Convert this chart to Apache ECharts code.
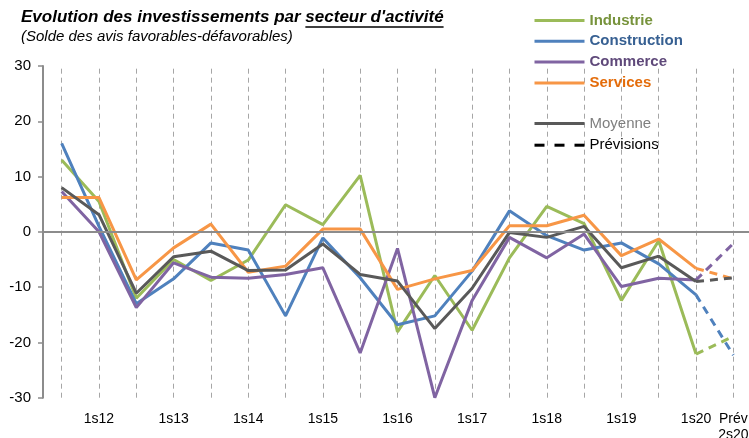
<!DOCTYPE html>
<html>
<head>
<meta charset="utf-8">
<script src="https://cdn.jsdelivr.net/npm/echarts@6/dist/echarts.min.js"></script>
<style>
html,body{margin:0;padding:0;background:#fff;}
#chart{width:749px;height:438px;}
</style>
</head>
<body>
<div id="chart"></div>
<script>
// ---- data ----
var categories = ['2s11','1s12','2s12','1s13','2s13','1s14','2s14','1s15','2s15','1s16','2s16','1s17','2s17','1s18','2s18','1s19','2s19','1s20','Prév 2s20'];
var tickLabels = ['', '1s12', '', '1s13', '', '1s14', '', '1s15', '', '1s16', '', '1s17', '', '1s18', '', '1s19', '', '1s20', 'Prév\n2s20'];
var industrie    = [13.0, 5.5, -12.0, -5.0, -8.8, -5.1, 4.9, 1.3, 10.2, -18.1, -7.9, -17.8, -4.7, 4.6, 1.5, -12.4, -1.6, -22.1, -18.9];
var construction = [16.0, 1.0, -13.0, -8.5, -2.0, -3.3, -15.2, -1.1, -8.3, -16.8, -15.2, -7.1, 3.8, -0.7, -3.3, -2.0, -5.8, -11.4, -22.3];
var commerce     = [7.3, 0.0, -13.7, -5.6, -8.2, -8.4, -7.7, -6.5, -21.9, -3.0, -30.0, -12.4, -1.0, -4.7, -0.4, -9.9, -8.4, -8.7, -2.1];
var services     = [6.2, 6.2, -8.7, -2.9, 1.4, -7.3, -6.2, 0.5, 0.5, -10.4, -8.5, -7.0, 1.1, 1.1, 3.0, -4.3, -1.3, -6.6, -8.5];
var moyenne      = [8.0, 3.1, -11.1, -4.5, -3.5, -7.0, -6.9, -2.2, -7.7, -8.9, -17.5, -10.2, -0.1, -1.0, 1.0, -6.5, -4.4, -9.0, -8.3];
var yTicks = {min: -30, max: 30, interval: 10};

var seriesDefs = [
  {name: 'Industrie',    data: industrie,    color: '#9BBB59', text: '#77933C', bold: true},
  {name: 'Construction', data: construction, color: '#4F81BD', text: '#376092', bold: true},
  {name: 'Commerce',     data: commerce,     color: '#8064A2', text: '#5F497A', bold: true},
  {name: 'Services',     data: services,     color: '#F79646', text: '#E46C0A', bold: true},
  {name: 'Moyenne',      data: moyenne,      color: '#595959', text: '#7F7F7F', bold: false}
];

var FONT = '"Liberation Sans", Arial, sans-serif';
var n = categories.length;
var series = [];
seriesDefs.forEach(function (d, k) {
  var solid = d.data.map(function (v, i) { return i < n - 1 ? v : null; });
  var dashed = d.data.map(function (v, i) { return i >= n - 2 ? v : null; });
  var s = {
    name: d.name, type: 'line', data: solid, symbol: 'none', connectNulls: false,
    lineStyle: {color: d.color, width: 3}, itemStyle: {color: d.color},
    z: 3, animation: false
  };
  if (k === 0) {
    s.markLine = {
      silent: true, symbol: 'none', label: {show: false}, animation: false,
      lineStyle: {color: '#8c8c8c', width: 2, type: 'solid'},
      data: [{yAxis: 0}]
    };
  }
  series.push(s);
  series.push({
    name: d.name + ' (prév.)', type: 'line', data: dashed, symbol: 'none',
    lineStyle: {color: d.color, width: 3, type: [8, 6]}, itemStyle: {color: d.color},
    z: 3, animation: false
  });
});
series.push({
  name: 'Prévisions', type: 'line', data: [], symbol: 'none',
  lineStyle: {color: '#000', width: 3, type: [10, 10]}, itemStyle: {color: '#000'}, animation: false
});

var legendItems = function (names) {
  return names.map(function (nm) {
    var d = seriesDefs.filter(function (x) { return x.name === nm; })[0];
    return {name: nm, textStyle: {color: d.text, fontWeight: d.bold ? 'bold' : 'normal'}};
  });
};

// title widths for underline
var titleFont = 'italic bold 17px ' + FONT;
var cv = document.createElement('canvas').getContext('2d');
cv.font = titleFont;
var t1 = 'Evolution des investissements par ';
var t2 = "secteur d'activité";
var w1 = cv.measureText(t1).width, w2 = cv.measureText(t2).width;
var tx = 21;

var legendCommon = {
  orient: 'vertical', left: 533, itemWidth: 50, itemHeight: 20, padding: 0,
  selectedMode: false, itemStyle: {opacity: 0}, lineStyle: {width: 3},
  textStyle: {fontSize: 15, fontFamily: FONT, lineHeight: 20}
};

var chart = echarts.init(document.getElementById('chart'), null, {renderer: 'canvas'});
chart.setOption({
  animation: false,
  backgroundColor: '#fff',
  textStyle: {fontFamily: FONT},
  grid: {left: 43, top: 66, width: 709, height: 331.7, containLabel: false, outerBoundsMode: 'none'},
  graphic: [
    {type: 'text', left: tx, top: 9, style: {text: t1 + t2, font: titleFont, fill: '#000'}},
    {type: 'line', shape: {x1: tx + w1, y1: 27, x2: tx + w1 + w2, y2: 27}, style: {stroke: '#000', lineWidth: 1.3}},
    {type: 'text', left: 21, top: 29.5, style: {text: '(Solde des avis favorables-défavorables)', font: 'italic 15px ' + FONT, fill: '#000'}}
  ],
  legend: [
    Object.assign({}, legendCommon, {
      top: 10.5, itemGap: 0.8,
      data: legendItems(['Industrie', 'Construction', 'Commerce', 'Services'])
    }),
    Object.assign({}, legendCommon, {
      top: 113.5, itemGap: 1.7,
      data: [{name: 'Moyenne', textStyle: {color: '#7F7F7F'}}, {name: 'Prévisions', textStyle: {color: '#000'}}]
    })
  ],
  xAxis: {
    type: 'category', data: categories, boundaryGap: true,
    axisLine: {show: false, onZero: false},
    axisTick: {show: true, inside: true, length: 331.7, alignWithLabel: true, interval: 0,
      lineStyle: {color: '#a6a6a6', width: 1, type: [5, 4]}},
    splitLine: {show: false},
    axisLabel: {interval: 0, margin: 13, fontSize: 14, color: '#000', fontFamily: FONT, lineHeight: 16,
      formatter: function (v, i) { return tickLabels[i]; }}
  },
  yAxis: {
    type: 'value', min: yTicks.min, max: yTicks.max, interval: yTicks.interval,
    axisLine: {show: true, lineStyle: {color: '#8c8c8c', width: 2}},
    axisTick: {show: true, length: 5, lineStyle: {color: '#8c8c8c', width: 1.5}},
    splitLine: {show: false},
    axisLabel: {margin: 12, fontSize: 15, color: '#000', fontFamily: FONT}
  },
  series: series
});
</script>
</body>
</html>
